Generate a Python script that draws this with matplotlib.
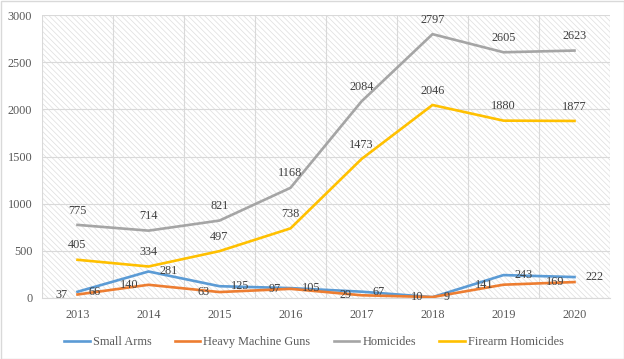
import matplotlib.pyplot as plt
import numpy as np

plt.rcParams["font.family"]=["Liberation Serif","DejaVu Serif"]
plt.rcParams["hatch.linewidth"]=0.5

years=["2013","2014","2015","2016","2017","2018","2019","2020"]
small_arms=[66,281,125,105,67,9,243,222]
heavy_guns=[37,140,63,97,29,10,141,169]
homicides=[775,714,821,1168,2084,2797,2605,2623]
firearm_homicides=[405,334,497,738,1473,2046,1880,1877]

names=["Small Arms","Heavy Machine Guns","Homicides","Firearm Homicides"]
colors=["#5B9BD5","#ED7D31","#A5A5A5","#FFC000"]
label_pos=["right","left","above","above"]

def draw_chart():
    fig=plt.figure(figsize=(6.24,3.59),dpi=100)
    ax=fig.add_axes([42/624,1-298/359,(610-42)/624,(298-15)/359])

    ax.patch.set_facecolor("white")
    ax.patch.set_hatch("\\\\\\\\\\\\")
    ax.patch.set_edgecolor("#DEDEDE")

    fs=8.8
    x=np.arange(len(years))
    series=[small_arms,heavy_guns,homicides,firearm_homicides]
    for vals,name,col,pos in zip(series,names,colors,label_pos):
        ax.plot(x,vals,color=col,linewidth=1.9,label=name,zorder=3)
        for xi,v in zip(x,vals):
            if pos=="right":
                ax.annotate(str(v),(xi,v),xytext=(8,0),textcoords="offset points",
                            ha="left",va="center",fontsize=fs,color="#404040",zorder=4)
            elif pos=="left":
                ax.annotate(str(v),(xi,v),xytext=(-7,0),textcoords="offset points",
                            ha="right",va="center",fontsize=fs,color="#404040",zorder=4)
            else:
                ax.annotate(str(v),(xi,v),xytext=(0,6),textcoords="offset points",
                            ha="center",va="bottom",fontsize=fs,color="#404040",zorder=4)

    ax.set_xlim(-0.5,len(years)-0.5)
    ax.set_ylim(0,3000)
    ax.set_yticks(np.arange(0,3001,500))
    ax.set_xticks(x)
    ax.set_xticklabels(years)
    ax.set_xticks(np.arange(-0.5,len(years),0.5),minor=True)
    ax.grid(axis="y",color="#D9D9D9",linewidth=0.8,zorder=1)
    ax.grid(axis="x",which="minor",color="#D9D9D9",linewidth=0.8,zorder=1)
    ax.set_axisbelow(True)
    ax.tick_params(which="both",length=0)
    ax.tick_params(axis="both",labelsize=fs,labelcolor="#595959")
    ax.tick_params(axis="x",pad=8)
    ax.tick_params(axis="y",pad=7)
    for s in ["top","right","left"]:
        ax.spines[s].set_visible(False)
    ax.spines["bottom"].set_color("#D9D9D9")

    leg=fig.legend(loc="center",bbox_to_anchor=(314/624,1-342/359),ncol=4,frameon=False,
                   fontsize=fs,handlelength=2.1,columnspacing=1.9,handletextpad=0.25)
    for t in leg.get_texts():
        t.set_color("#595959")

    fig.patches.append(plt.Rectangle((0.5/624,0.5/359),623/624,358/359,transform=fig.transFigure,
                                     fill=False,edgecolor="#D9D9D9",linewidth=1))
    fig.savefig("out.png",dpi=100)

if __name__=="__main__":
    draw_chart()
